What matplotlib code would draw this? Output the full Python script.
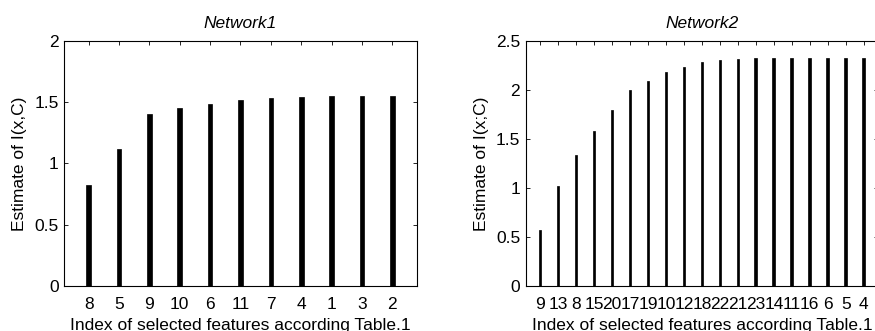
import matplotlib
matplotlib.use("Agg")
import matplotlib.pyplot as plt

plt.rcParams["font.family"] = ["Liberation Sans", "DejaVu Sans"]

# Network1: selected feature order and estimated mutual information
net1_features = ["8", "5", "9", "10", "6", "11", "7", "4", "1", "3", "2"]
net1_values = [0.821, 1.114, 1.400, 1.449, 1.487, 1.517, 1.530, 1.541, 1.547, 1.552, 1.552]

# Network2: selected feature order and estimated mutual information
net2_features = ["9", "13", "8", "15", "20", "17", "19", "10", "12", "18",
                 "22", "21", "23", "14", "11", "16", "6", "5", "4"]
net2_values = [0.571, 1.019, 1.332, 1.580, 1.797, 1.998, 2.093, 2.181, 2.235, 2.280,
               2.300, 2.313, 2.320, 2.325, 2.327, 2.327, 2.327, 2.327, 2.327]

W, H = 875, 331
fig = plt.figure(figsize=(W / 100, H / 100), dpi=100)

FS = 12.5


def panel(rect, labels, values, ymax, yticks, yticklabels, ylabel, title):
    ax = fig.add_axes(rect)
    x = list(range(1, len(values) + 1))
    ax.bar(x, values, width=0.15, color="black", edgecolor="black", linewidth=0.5)
    ax.set_xlim(0.2, len(values) + 0.8)
    ax.set_ylim(0, ymax)
    ax.set_xticks(x)
    ax.set_xticklabels(labels, fontsize=FS)
    ax.set_yticks(yticks)
    ax.set_yticklabels(yticklabels, fontsize=FS)
    ax.tick_params(direction="in", length=3, width=0.6, top=True, right=True)
    ax.tick_params(axis="x", pad=8)
    ax.tick_params(axis="y", pad=4)
    for s in ax.spines.values():
        s.set_linewidth(0.8)
    ax.set_xlabel("Index of selected features according Table.1", fontsize=FS, labelpad=4)
    ax.set_ylabel(ylabel, fontsize=FS, labelpad=5)
    ax.set_title(title, fontsize=FS, style="italic", pad=9)
    return ax


axh = (286 - 40.7) / H
axb = (H - 286) / H
axw = 352.4 / W

panel([64.3 / W, axb, axw, axh], net1_features, net1_values, 2,
      [0, 0.5, 1, 1.5, 2], ["0", "0.5", "1", "1.5", "2"],
      "Estimate of I(x,C)", "Network1")
panel([525.7 / W, axb, axw, axh], net2_features, net2_values, 2.5,
      [0, 0.5, 1, 1.5, 2, 2.5], ["0", "0.5", "1", "1.5", "2", "2.5"],
      "Estimate of I(x;C)", "Network2")

fig.savefig("out.png", dpi=100)
